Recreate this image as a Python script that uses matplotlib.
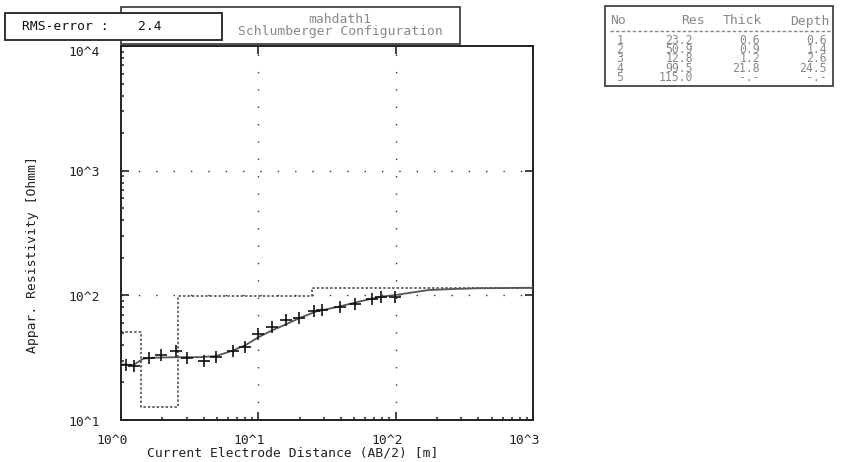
import matplotlib
matplotlib.use('Agg')
import matplotlib.pyplot as plt
import matplotlib.transforms as mtransforms
from matplotlib.patches import Rectangle
from matplotlib.lines import Line2D

# ---------------- data ----------------
obs_x = [1.09, 1.25, 1.60, 1.97, 2.50, 3.02, 4.01, 4.94, 6.51, 8.01, 10.0,
         12.5, 16.0, 19.8, 25.5, 29.2, 39.1, 50.5, 67.3, 78.8, 99.5]
obs_y = [27.6, 27.3, 31.3, 33.4, 36.0, 31.5, 29.8, 31.9, 36.0, 38.8, 48.7,
         56.1, 63.1, 65.5, 75.4, 76.4, 81.2, 84.9, 93.1, 97.7, 97.1]

curve_x = [1.0, 1.23, 1.45, 1.7, 2.2, 3.0, 3.7, 4.94, 6.5, 8.1, 10.0, 12.7,
           15.0, 19.8, 26.2, 38.6, 54.0, 79.3, 99.5, 131, 173, 242, 400, 1000]
curve_y = [28.0, 27.6, 31.0, 31.6, 31.8, 31.9, 31.9, 32.6, 36.0, 40.0, 46.1,
           52.6, 56.9, 65.5, 74.1, 81.2, 89.0, 97.7, 100.5, 105.3, 110.2,
           112.0, 114.0, 115.0]

layer_no = ["1", "2", "3", "4", "5"]
layer_res = [23.2, 50.9, 12.8, 99.5, 115.0]
layer_thick = [0.6, 0.9, 1.2, 21.8]
layer_depth = [0.6, 1.4, 2.6, 24.5]

x_ticks = [1, 10, 100, 1000]
x_tick_labels = ["10^0", "10^1", "10^2", "10^3"]
y_ticks = [10, 100, 1000, 10000]
y_tick_labels = ["10^1", "10^2", "10^3", "10^4"]

rms_value = "2.4"
site_name = "mahdath1"
config_name = "Schlumberger Configuration"

# ---------------- figure ----------------
W, H = 854, 462
fig = plt.figure(figsize=(W / 100, H / 100), dpi=100)
FONT = 'DejaVu Sans Mono'
FS = 9.4
TFS = 8.3


def fx(px):
    return px / W


def fy(py):
    return 1 - py / H


ax = fig.add_axes([fx(121), fy(420), fx(533) - fx(121), fy(46) - fy(420)])
ax.set_xscale('log')
ax.set_yscale('log')
ax.set_xlim(1, 1000)
ax.set_ylim(10, 10000)

# grid (sparse dots)
for gx in x_ticks[1:-1]:
    ax.axvline(gx, color='#333333', lw=1.0, ls=(0, (1, 11.5)), zorder=1)
for gy in y_ticks[1:-1]:
    ax.axhline(gy, color='#333333', lw=1.0, ls=(0, (1, 11.5)), zorder=1)

# layered model (step)
step_x = [0.1] + layer_depth + [1000]
step_y = layer_res + [layer_res[-1]]
ax.step(step_x, step_y, where='post', color='#444444', lw=1.1,
        ls=(0, (1.6, 1.3)), zorder=2)

# model curve
ax.plot(curve_x, curve_y, color='#555555', lw=1.3, zorder=3)

# observations
ax.plot(obs_x, obs_y, ls='none', marker='+', ms=8, mew=1.2,
        color='#111111', zorder=4)

for s in ax.spines.values():
    s.set_linewidth(1.4)
    s.set_color('#222222')

ax.set_xticks(x_ticks)
ax.set_yticks(y_ticks)
ax.tick_params(which='both', direction='in', labelbottom=False,
               labelleft=False, color='#222222')
ax.tick_params(which='major', length=5.5, width=1.2, top=True, right=True)
ax.tick_params(which='minor', length=2.5, width=1.1, top=False, right=False)

# tick labels
tx = mtransforms.blended_transform_factory(ax.transData, ax.transAxes)
for v, lab in zip(x_ticks, x_tick_labels):
    ax.text(v, 0, lab, transform=tx + mtransforms.ScaledTranslation(-9 / 100, -20 / 100, fig.dpi_scale_trans),
            ha='center', va='center', family=FONT, fontsize=FS, color='#222222')
ty = mtransforms.blended_transform_factory(ax.transAxes, ax.transData)
for v, lab in zip(y_ticks, y_tick_labels):
    off = -6 if v == y_ticks[-1] else -2
    ax.text(0, v, lab, transform=ty + mtransforms.ScaledTranslation(-21 / 100, off / 100, fig.dpi_scale_trans),
            ha='right', va='center', family=FONT, fontsize=FS, color='#222222')

fig.text(fx(293), fy(453), "Current Electrode Distance (AB/2) [m]", ha='center',
         va='center', family=FONT, fontsize=FS, color='#222222')
fig.text(fx(33), fy(255), "Appar. Resistivity [Ohmm]", ha='center',
         va='center', rotation=90, family=FONT, fontsize=FS, color='#222222')

# title box
fig.patches.append(Rectangle((fx(121), fy(44)), fx(460) - fx(121), fy(7) - fy(44),
                             transform=fig.transFigure, fill=False,
                             ec='#333333', lw=1.2, zorder=5))
fig.text(fx(340), fy(25.5), site_name + "\n" + config_name, ha='center',
         va='center', family=FONT, fontsize=FS, color='#888888',
         linespacing=0.85, multialignment='center')

# RMS box
fig.patches.append(Rectangle((fx(5), fy(40)), fx(222) - fx(5), fy(13) - fy(40),
                             transform=fig.transFigure, fc='white',
                             ec='#222222', lw=1.3, zorder=6))
fig.text(fx(22), fy(26.5), "RMS-error :", ha='left', va='center', family=FONT,
         fontsize=FS, color='#111111', zorder=7)
fig.text(fx(138), fy(26.5), rms_value, ha='left', va='center', family=FONT,
         fontsize=FS, color='#111111', zorder=7)

# layer table
fig.patches.append(Rectangle((fx(605), fy(86)), fx(833) - fx(605), fy(6) - fy(86),
                             transform=fig.transFigure, fill=False,
                             ec='#333333', lw=1.2, zorder=5))
TC = '#888888'
fig.text(fx(610), fy(21), "No", ha='left', va='center', family=FONT, fontsize=FS, color=TC)
fig.text(fx(705), fy(21), "Res", ha='right', va='center', family=FONT, fontsize=FS, color=TC)
fig.text(fx(762), fy(21), "Thick", ha='right', va='center', family=FONT, fontsize=FS, color=TC)
fig.text(fx(830), fy(21), "Depth", ha='right', va='center', family=FONT, fontsize=FS, color=TC)
fig.add_artist(Line2D([fx(610), fx(830)], [fy(31), fy(31)], transform=fig.transFigure,
                      color=TC, lw=1.0, ls=(0, (2.5, 1.5))))

col_no = "\n".join(layer_no)
col_res = "\n".join(f"{r:.1f}" for r in layer_res)
col_th = "\n".join([f"{t:.1f}" for t in layer_thick] + ["-.-"])
col_dp = "\n".join([f"{d:.1f}" for d in layer_depth] + ["-.-"])
LS = 0.62
TOP = fy(34)
fig.text(fx(620), TOP, col_no, ha='center', va='top', family=FONT, fontsize=TFS,
         color=TC, linespacing=LS, multialignment='center')
fig.text(fx(693), TOP, col_res, ha='right', va='top', family=FONT, fontsize=TFS,
         color=TC, linespacing=LS, multialignment='right')
fig.text(fx(760), TOP, col_th, ha='right', va='top', family=FONT, fontsize=TFS,
         color=TC, linespacing=LS, multialignment='right')
fig.text(fx(827), TOP, col_dp, ha='right', va='top', family=FONT, fontsize=TFS,
         color=TC, linespacing=LS, multialignment='right')

fig.savefig('out.png', dpi=100)
